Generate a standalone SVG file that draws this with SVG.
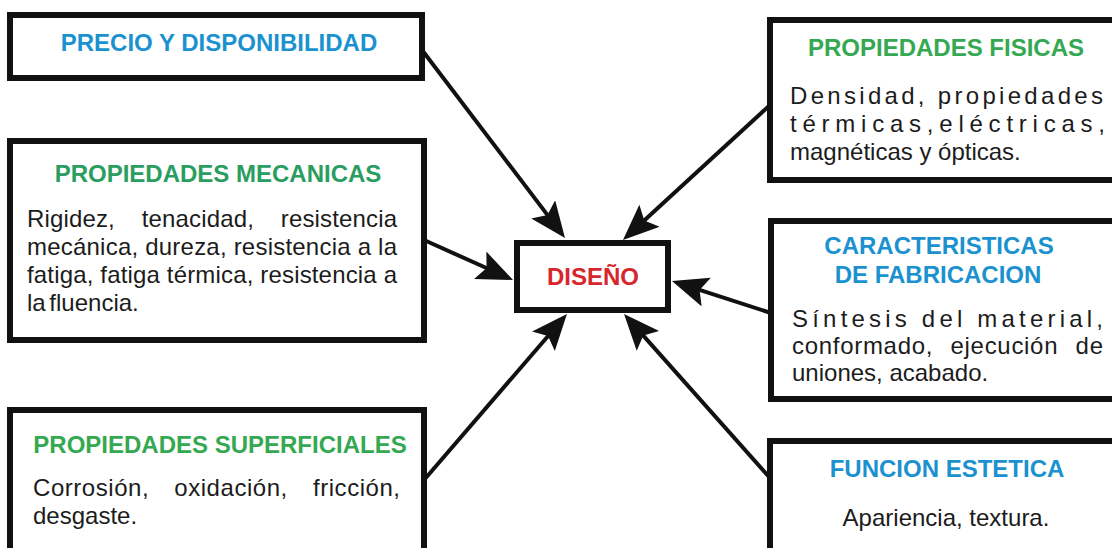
<svg xmlns="http://www.w3.org/2000/svg" width="1112" height="548" viewBox="0 0 1112 548">
<style>
.box{fill:#fff;stroke:#111;stroke-width:6}
.t{font-family:"Liberation Sans",Arial,sans-serif;font-size:24px;font-weight:bold;text-anchor:middle}
.blue{fill:#1b92cf}
.green{fill:#35a852}
.teal{fill:#2a9d60}
.red{fill:#d7262e}
.b{font-family:"Liberation Sans",Arial,sans-serif;font-size:24px;fill:#1c1c1c}
.c{fill:none;stroke:#111;stroke-width:4}
</style>
<defs>
<marker id="ah" markerUnits="userSpaceOnUse" markerWidth="38" markerHeight="32" refX="16" refY="15" orient="auto">
<path d="M0,0 L36,15 L0,30 L7,15 Z" fill="#111"/>
</marker>
</defs>
<rect width="1112" height="548" fill="#fff"/>
<g id="connectors">
<line class="c" x1="422" y1="50" x2="552.9" y2="222.1" marker-end="url(#ah)"/>
<line class="c" x1="770" y1="105" x2="637.7" y2="226.5" marker-end="url(#ah)"/>
<line class="c" x1="424" y1="240" x2="494.8" y2="271.8" marker-end="url(#ah)"/>
<line class="c" x1="771" y1="313" x2="691" y2="287.2" marker-end="url(#ah)"/>
<line class="c" x1="424" y1="480" x2="553.9" y2="329.2" marker-end="url(#ah)"/>
<line class="c" x1="770" y1="478" x2="637.3" y2="328.9" marker-end="url(#ah)"/>
</g>
<g id="precio">
<rect class="box" x="10" y="15" width="412" height="63"/>
<text class="t blue" x="219" y="51">PRECIO Y DISPONIBILIDAD</text>
</g>
<g id="fisicas">
<rect class="box" x="770" y="20" width="360" height="160"/>
<text class="t green" x="946" y="56">PROPIEDADES FISICAS</text>
<text class="b" x="790" y="104" textLength="313" lengthAdjust="spacing">Densidad, propiedades</text>
<text class="b" x="790" y="132" textLength="315" lengthAdjust="spacing">térmicas,eléctricas,</text>
<text class="b" x="790" y="160">magnéticas y ópticas.</text>
</g>
<g id="mecanicas">
<rect class="box" x="10" y="141" width="414" height="199"/>
<text class="t teal" x="218" y="182">PROPIEDADES MECANICAS</text>
<text class="b" x="27" y="227" word-spacing="20" textLength="370" lengthAdjust="spacing">Rigidez, tenacidad, resistencia</text>
<text class="b" x="27" y="255" textLength="370" lengthAdjust="spacing">mecánica, dureza, resistencia a la</text>
<text class="b" x="27" y="283" textLength="370" lengthAdjust="spacing">fatiga, fatiga térmica, resistencia a</text>
<text class="b" x="27" y="311" word-spacing="-3">la fluencia.</text>
</g>
<g id="diseno">
<rect class="box" x="517" y="243" width="151" height="67"/>
<text class="t red" x="593" y="285">DISEÑO</text>
</g>
<g id="fabricacion">
<rect class="box" x="771" y="221" width="360" height="178"/>
<text class="t blue" x="939" y="254">CARACTERISTICAS</text>
<text class="t blue" x="938" y="283">DE FABRICACION</text>
<text class="b" x="792" y="327" textLength="311" lengthAdjust="spacing">Síntesis del material,</text>
<text class="b" x="792" y="354" word-spacing="10" textLength="311" lengthAdjust="spacing">conformado, ejecución de</text>
<text class="b" x="792" y="381">uniones, acabado.</text>
</g>
<g id="superficiales">
<rect class="box" x="10" y="410" width="414" height="150"/>
<text class="t green" x="220" y="453">PROPIEDADES SUPERFICIALES</text>
<text class="b" x="33" y="496" word-spacing="18" textLength="367" lengthAdjust="spacing">Corrosión, oxidación, fricción,</text>
<text class="b" x="33" y="524">desgaste.</text>
</g>
<g id="estetica">
<rect class="box" x="770" y="441" width="360" height="130"/>
<text class="t blue" x="947" y="477">FUNCION ESTETICA</text>
<text class="b" x="946" y="526" text-anchor="middle">Apariencia, textura.</text>
</g>
</svg>
